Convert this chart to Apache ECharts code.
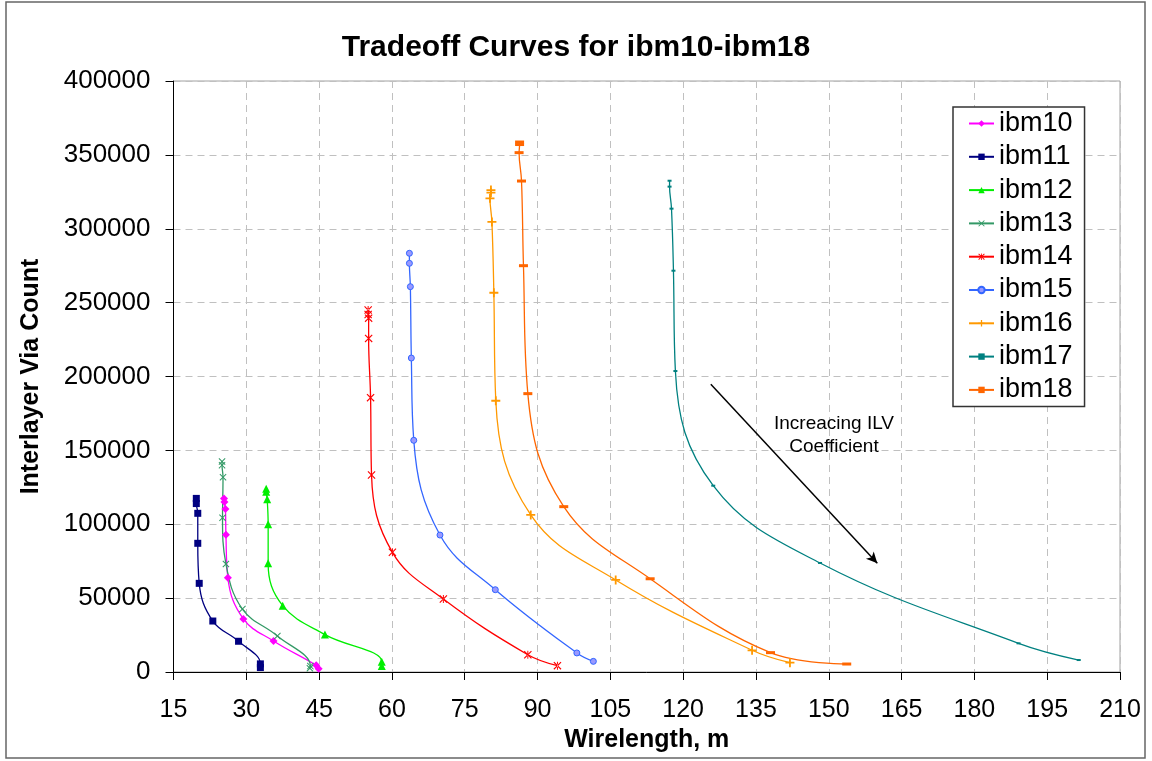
<!DOCTYPE html>
<html>
<head>
<meta charset="utf-8">
<script src="https://cdn.jsdelivr.net/npm/echarts@6/dist/echarts.min.js"></script>
<style>
    html, body { margin: 0; padding: 0; background: #fff; }
    #chart { width: 1152px; height: 761px; }
</style>
</head>
<body>
<div id="chart"></div>
<script>
// x: wirelength (m), y: interlayer via count
const ibm10 = [[25.4, 117500], [25.5, 115000], [25.7, 110300], [25.8, 92900], [26.2, 63800], [29.4, 35900], [35.6, 21000], [44.4, 4500], [44.9, 2200]];
const ibm11 = [[19.7, 117500], [19.7, 114000], [20.0, 107400], [20.0, 87100], [20.3, 60000], [23.1, 34500], [28.4, 20800], [32.9, 5500], [32.9, 3000]];
const ibm12 = [[34.1, 124000], [34.1, 122000], [34.3, 116900], [34.5, 100000], [34.5, 73600], [37.5, 44900], [46.2, 25300], [57.9, 7000], [57.9, 4000]];
const ibm13 = [[25.0, 142500], [25.0, 140000], [25.2, 131800], [25.1, 104400], [25.8, 73100], [29.2, 42600], [36.4, 24400], [43.2, 4000], [43.1, 2500]];
const ibm14 = [[55.1, 245000], [55.1, 242000], [55.2, 239500], [55.2, 225800], [55.6, 185700], [55.8, 133300], [60.1, 81000], [70.6, 49400], [88.0, 11700], [94.1, 4300]];
const ibm15 = [[63.6, 283400], [63.6, 276600], [63.8, 260800], [64.0, 212500], [64.5, 156800], [69.9, 92700], [81.3, 55700], [98.1, 12900], [101.5, 7200]];
const ibm16 = [[80.4, 326200], [80.4, 324400], [80.2, 320600], [80.6, 304600], [81.0, 256700], [81.4, 183600], [88.6, 106300], [106.1, 62300], [134.2, 14700], [142.0, 6300]];
const ibm17 = [[117.2, 332500], [117.2, 328500], [117.6, 313600], [118.0, 271600], [118.4, 203700], [126.2, 126100], [148.2, 73800], [189.1, 19400], [201.5, 8100]];
const ibm18 = [[86.3, 358700], [86.3, 357000], [86.2, 351500], [86.7, 332300], [87.1, 275000], [88.0, 188400], [95.4, 111900], [113.2, 63100], [138.0, 13100], [153.7, 5400]];

const seriesNames = ["ibm10", "ibm11", "ibm12", "ibm13", "ibm14", "ibm15", "ibm16", "ibm17", "ibm18"];
const seriesData = [ibm10, ibm11, ibm12, ibm13, ibm14, ibm15, ibm16, ibm17, ibm18];
const xTicks = {min: 15, max: 210, interval: 15};
const yTicks = {min: 0, max: 400000, interval: 50000};
// arrow annotation, from / to in data coords
const arrowFrom = [125.7, 194700];
const arrowTo = [160.0, 73600];

const FONT = 'Arial, "Liberation Sans", sans-serif';
const xPath = 'path://M1,0L5,4L9,0L10,1L6,5L10,9L9,10L5,6L1,10L0,9L4,5L0,1Z';
const starPath = 'path://M1,0L5,4L9,0L10,1L6,5L10,9L9,10L5,6L1,10L0,9L4,5L0,1Z M4.4,0L4.4,10L5.6,10L5.6,0Z';
const plusPath = 'path://M4,0H6V4H10V6H6V10H4V6H0V4H4Z';

// marker style per series
const styles = [
    {color: "#FF00FF", symbol: "diamond", size: 8},
    {color: "#000080", symbol: "rect", size: 7},
    {color: "#00EE00", symbol: "triangle", size: 8},
    {color: "#339966", symbol: xPath, size: 7},
    {color: "#FF0000", symbol: starPath, size: 8},
    {color: "#3366FF", symbol: "circle", size: 6, fill: "#9999FF"},
    {color: "#FF9900", symbol: plusPath, size: 9},
    {color: "#008080", symbol: "rect", size: [4, 2]},
    {color: "#FF6600", symbol: "rect", size: [9, 3]}
];

let series = seriesNames.map(function (name, i) {
    let s = styles[i];
    let item = {
        name: name,
        type: "line",
        smooth: 0.4,
        data: seriesData[i],
        symbol: s.symbol,
        symbolSize: s.size,
        showSymbol: true,
        lineStyle: {color: s.color, width: 1.3},
        itemStyle: s.fill
            ? {color: s.fill, borderColor: s.color, borderWidth: 1}
            : {color: s.color, borderWidth: 0},
        emphasis: {disabled: true},
        z: 3
    };
    if (name === "ibm17") {
        item.markLine = {
            silent: true,
            symbol: ["none", "arrow"],
            symbolSize: [8, 11],
            label: {show: false},
            lineStyle: {color: "#000", width: 1.5, type: "solid"},
            data: [[{coord: arrowFrom}, {coord: arrowTo}]]
        };
    }
    return item;
});

let option = {
    animation: false,
    backgroundColor: "#fff",
    textStyle: {fontFamily: FONT},
    title: {
        text: "Tradeoff Curves for ibm10-ibm18",
        left: "center",
        top: 28,
        textStyle: {fontFamily: FONT, fontSize: 30, fontWeight: "bold", color: "#000"}
    },
    grid: {
        left: 173.5,
        right: 32,
        top: 81,
        bottom: 89,
        show: true,
        borderColor: "#A0A0A0",
        borderWidth: 1
    },
    legend: {
        data: seriesNames,
        orient: "vertical",
        left: 953,
        top: 107,
        padding: [3, 12, 3, 15],
        itemWidth: 25,
        itemHeight: 8,
        itemGap: 6.3,
        borderColor: "#333",
        borderWidth: 1.5,
        backgroundColor: "#fff",
        textStyle: {fontFamily: FONT, fontSize: 27, lineHeight: 26, color: "#000"}
    },
    xAxis: {
        type: "value",
        min: xTicks.min,
        max: xTicks.max,
        interval: xTicks.interval,
        name: "Wirelength, m",
        nameLocation: "middle",
        nameGap: 54,
        nameTextStyle: {fontFamily: FONT, fontSize: 25, fontWeight: "bold", color: "#000"},
        axisLine: {lineStyle: {color: "#000", width: 1}},
        axisTick: {length: 8, lineStyle: {color: "#000"}},
        axisLabel: {fontFamily: FONT, fontSize: 25, color: "#000", margin: 26},
        splitLine: {show: true, lineStyle: {color: "#C0C0C0", type: [7, 5], width: 1}}
    },
    yAxis: {
        type: "value",
        min: yTicks.min,
        max: yTicks.max,
        interval: yTicks.interval,
        name: "Interlayer Via Count",
        nameLocation: "middle",
        nameGap: 130,
        nameRotate: 90,
        nameTextStyle: {fontFamily: FONT, fontSize: 25, fontWeight: "bold", color: "#000"},
        axisLine: {show: true, lineStyle: {color: "#000", width: 1}},
        axisTick: {show: true, length: 8, lineStyle: {color: "#000"}},
        axisLabel: {
            fontFamily: FONT, fontSize: 26, color: "#000", margin: 23,
            formatter: function (v) { return String(v); }
        },
        splitLine: {show: true, lineStyle: {color: "#C0C0C0", type: [7, 5], width: 1}}
    },
    graphic: [
        {
            type: "rect",
            silent: true,
            shape: {x: 6, y: 2, width: 1139, height: 756},
            style: {fill: "none", stroke: "#666", lineWidth: 1.5},
            z: 10
        },
        {
            type: "text",
            silent: true,
            x: 834,
            y: 435,
            style: {
                text: "Increacing ILV\nCoefficient",
                fontFamily: FONT,
                fontSize: 19,
                lineHeight: 23,
                align: "center",
                verticalAlign: "middle",
                fill: "#000"
            },
            z: 10
        }
    ],
    series: series
};

let dom = echarts.init(document.getElementById("chart"), null, {renderer: "canvas"});
dom.setOption(option);
</script>
</body>
</html>
